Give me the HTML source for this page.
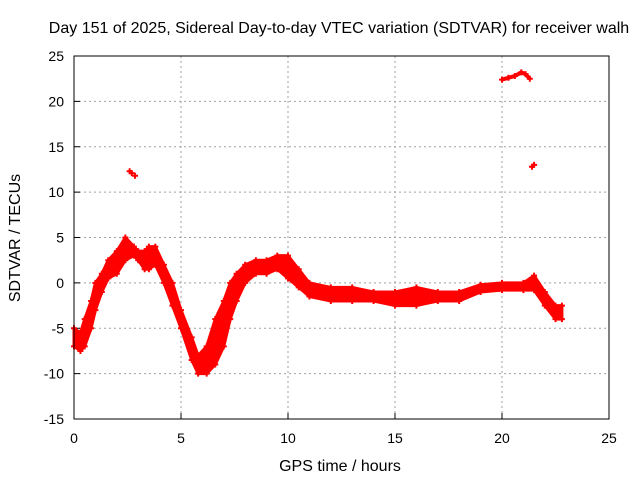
<!DOCTYPE html>
<html><head><meta charset="utf-8"><style>
body{margin:0;background:#fff}
svg{display:block;font-family:"Liberation Sans",sans-serif}
</style></head><body>
<svg id="chart" width="640" height="480">
<text x="339" y="33" font-size="16" text-anchor="middle">Day 151 of 2025, Sidereal Day-to-day VTEC variation (SDTVAR) for receiver walh</text>
<text x="340" y="471" font-size="16" text-anchor="middle">GPS time / hours</text>
<text transform="translate(20,238) rotate(-90)" font-size="16" text-anchor="middle">SDTVAR / TECUs</text>
<g id="grid"></g><g id="marks"></g>
<rect x="74" y="56" width="535" height="363" fill="none" stroke="#000"/>
</svg>
<script>
const xTicks=[0,5,10,15,20,25];
const yTicks=[-15,-10,-5,0,5,10,15,20,25];
const times=[0,0.3,0.5,0.8,1.0,1.3,1.6,2.0,2.4,2.8,3.0,3.3,3.5,3.8,4.2,4.6,5.0,5.5,5.8,6.2,6.6,7.0,7.3,7.6,8.0,8.5,9.0,9.5,10,10.5,11,12,13,14,15,16,17,18,19,20,21,21.5,22,22.5,22.8];
const upper=[-5,-5.5,-4,-2,0,1,2.5,3.5,5,4,3.5,3.5,4,4,2,0,-3,-6,-8,-7,-4,-2,0,1,2,2.5,2.5,3,3,1.5,0,-0.5,-0.5,-1,-1,-0.5,-1,-1,-0.2,0,0,0.8,-1,-2.5,-2.5];
const lower=[-7,-7.5,-7,-5,-3,-1,0.5,1,2.5,3,2.5,1.5,1.5,2,0,-2.5,-5,-8.5,-10,-10,-9,-7,-4,-2,0,1,1,1.5,0.5,-0.5,-1.5,-2,-2,-2,-2.5,-2.5,-2,-2,-1,-0.8,-0.8,-0.8,-2.5,-4,-4];
const outT=[2.6,2.7,2.85,20.0,20.3,20.6,20.9,21.1,21.3,21.4,21.5];
const outV=[12.3,12.1,11.8,22.4,22.6,22.8,23.2,23.0,22.5,12.8,13.0];
const X=t=>74+t*535/25, Y=v=>56+(25-v)*363/40;
const NS='http://www.w3.org/2000/svg';
const grid=document.getElementById('grid'), marks=document.getElementById('marks'), svg=document.getElementById('chart');
function mk(tag,a,p){const e=document.createElementNS(NS,tag);for(const k in a)e.setAttribute(k,a[k]);p.appendChild(e);return e;}
xTicks.forEach(t=>{
 if(t>0&&t<25){const g=mk('line',{x1:X(t),x2:X(t),y1:56,y2:419,stroke:'#a0a0a0','stroke-dasharray':'2,3'},grid);
 
 }
 const tk=mk('line',{x1:X(t),x2:X(t),y1:419,y2:413,stroke:'#000'},grid);
 
 
 const l=mk('text',{x:X(t),y:443,'font-size':14,'text-anchor':'middle'},svg);l.textContent=t;
 
 
});
yTicks.forEach(v=>{
 if(v>-15&&v<25){const g=mk('line',{x1:74,x2:609,y1:Y(v),y2:Y(v),stroke:'#a0a0a0','stroke-dasharray':'2,3'},grid);
 
 }
 const tk=mk('line',{x1:74,x2:80,y1:Y(v),y2:Y(v),stroke:'#000'},grid);
 
 
 const l=mk('text',{x:64,y:Y(v)+5,'font-size':14,'text-anchor':'end'},svg);l.textContent=v;
 
 
});
let pts=times.map((t,i)=>X(t)+','+Y(upper[i]));
for(let i=times.length-1;i>=0;i--)pts.push(X(times[i])+','+Y(lower[i]));
const band=mk('polygon',{points:pts.join(' '),fill:'#f00',stroke:'#f00','stroke-width':3,'stroke-linejoin':'round'},marks);


function plus(x,y,name){const p=mk('path',{d:`M${x-3},${y}h6M${x},${y-3}v6`,stroke:'#f00','stroke-width':2},marks);
 
 }
times.forEach((t,i)=>{plus(X(t),Y(upper[i]),'series-marker');plus(X(t),Y(lower[i]),'series-marker');});
outT.forEach((t,i)=>plus(X(t),Y(outV[i]),'outlier-marker'));
for(let i=3;i<8;i++){const l=mk('line',{x1:X(outT[i]),y1:Y(outV[i]),x2:X(outT[i+1]),y2:Y(outV[i+1]),stroke:'#f00','stroke-width':4},marks);
 
 }
const l2=mk('line',{x1:X(outT[9]),y1:Y(outV[9]),x2:X(outT[10]),y2:Y(outV[10]),stroke:'#f00','stroke-width':4},marks);


</script>
</body></html>
